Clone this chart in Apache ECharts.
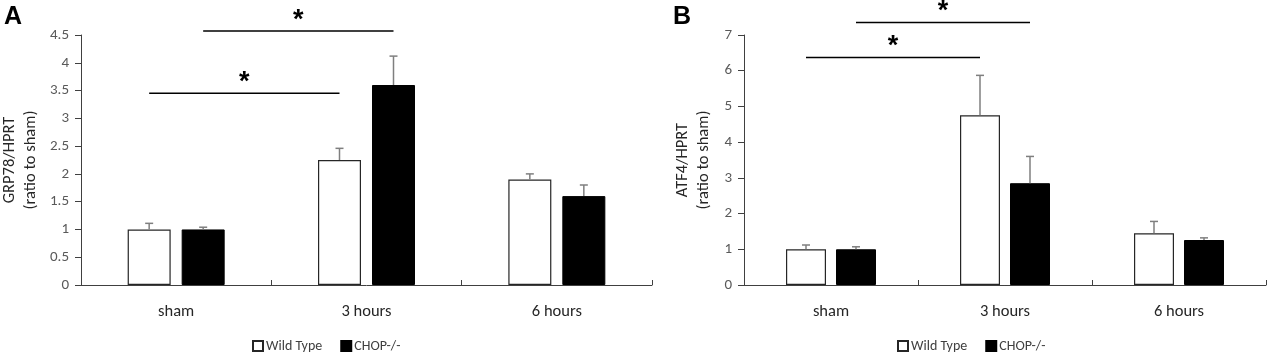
<!DOCTYPE html>
<html><head><meta charset="utf-8">
<script src="https://cdn.jsdelivr.net/npm/echarts@6/dist/echarts.min.js"></script>
<style>html,body{margin:0;padding:0;background:#fff}#c{width:1267px;height:354px}</style>
</head><body><div id="c"></div>
<script>
// ---- data ----
const categories = ['sham', '3 hours', '6 hours'];
const seriesNames = ['Wild Type', 'CHOP-/-'];
const grpWT = [1.0, 2.25, 1.9];
const grpWTErr = [0.11, 0.21, 0.1];
const grpKO = [1.0, 3.6, 1.6];
const grpKOErr = [0.04, 0.52, 0.2];
const atfWT = [1.0, 4.75, 1.45];
const atfWTErr = [0.12, 1.12, 0.33];
const atfKO = [1.0, 2.85, 1.26];
const atfKOErr = [0.07, 0.75, 0.06];
// significance brackets: [fromCategory, toCategory, seriesIndex, yLevel]
const sigA = [[0, 1, 0, 3.45], [0, 1, 1, 4.57]];
const sigB = [[0, 1, 0, 6.37], [0, 1, 1, 7.35]];
const yAxisA = { name: 'GRP78/HPRT\n(ratio to sham)', max: 4.5, step: 0.5 };
const yAxisB = { name: 'ATF4/HPRT\n(ratio to sham)', max: 7, step: 1 };
const panelLabels = ['A', 'B'];

// ---- style ----
const FONT = 'Carlito, Lato, "Open Sans", sans-serif';
const AX = '#404040';
const panels = [
  { grid: { left: 81, right: 615, top: 35, bottom: 69 }, barW: 43, gap: 11, wt: grpWT, wtE: grpWTErr, ko: grpKO, koE: grpKOErr, sig: sigA, y: yAxisA, nameGap: 40, legendLeft: 252, letterLeft: 4 },
  { grid: { left: 744, right: 1, top: 35, bottom: 69 }, barW: 40, gap: 10, wt: atfWT, wtE: atfWTErr, ko: atfKO, koE: atfKOErr, sig: sigB, y: yAxisB, nameGap: 30, legendLeft: 897, letterLeft: 673 }
];

function errRender(off) {
  return function (params, api) {
    const i = api.value(0), v = api.value(1), e = api.value(2);
    const p0 = api.coord([i, v]);
    const p1 = api.coord([i, v + e]);
    const x = p0[0] + off;
    const st = { stroke: '#7f7f7f', lineWidth: 1.5 };
    return { type: 'group', children: [
      { type: 'line', shape: { x1: x, y1: p0[1], x2: x, y2: p1[1] }, style: st },
      { type: 'line', shape: { x1: x - 4, y1: p1[1], x2: x + 4, y2: p1[1] }, style: st }
    ] };
  };
}
function sigRender(off) {
  return function (params, api) {
    const a = api.value(0), b = api.value(1), s = api.value(2), y = api.value(3);
    const o = s === 0 ? -off : off;
    const p0 = api.coord([a, y]);
    const p1 = api.coord([b, y]);
    const x0 = p0[0] + o, x1 = p1[0] + o;
    return { type: 'group', children: [
      { type: 'line', shape: { x1: x0, y1: p0[1], x2: x1, y2: p0[1] }, style: { stroke: '#000', lineWidth: 1.5 } },
      { type: 'text', style: { x: (x0 + x1) / 2, y: p0[1] + 3, text: '*', fill: '#000', font: 'bold 27px "Liberation Sans", Arial, sans-serif', textAlign: 'center', textVerticalAlign: 'bottom' } }
    ] };
  };
}

const option = { animation: false, backgroundColor: '#fff', grid: [], xAxis: [], yAxis: [], series: [], legend: [], graphic: [] };
panels.forEach((p, k) => {
  option.grid.push(Object.assign({ outerBoundsMode: 'none', containLabel: false }, p.grid));
  option.xAxis.push({
    gridIndex: k, type: 'category', data: categories,
    axisLine: { lineStyle: { color: AX, width: 1 } },
    axisTick: { show: true, inside: true, length: 5, lineStyle: { color: AX } },
    axisLabel: { fontFamily: FONT, fontSize: 16.5, color: '#262626', margin: 18 }
  });
  option.yAxis.push({
    gridIndex: k, type: 'value', min: 0, max: p.y.max, interval: p.y.step,
    name: p.y.name, nameLocation: 'middle', nameGap: p.nameGap, nameRotate: 90,
    nameTextStyle: { fontFamily: FONT, fontSize: 16.5, color: '#262626', lineHeight: 21 },
    axisLine: { show: true, lineStyle: { color: AX, width: 1 } },
    axisTick: { show: true, length: 6, lineStyle: { color: AX } },
    splitLine: { show: false },
    axisLabel: { fontFamily: FONT, fontSize: 15, color: '#595959', margin: 12 }
  });
  const off = (p.barW + p.gap) / 2;
  option.series.push(
    { name: seriesNames[0], type: 'bar', xAxisIndex: k, yAxisIndex: k, data: p.wt, barWidth: p.barW, barGap: (p.gap / p.barW * 100) + '%',
      itemStyle: { color: '#fff', borderColor: '#262626', borderWidth: 1.2 } },
    { name: seriesNames[1], type: 'bar', xAxisIndex: k, yAxisIndex: k, data: p.ko, barWidth: p.barW,
      itemStyle: { color: '#000', borderColor: '#000', borderWidth: 1 } },
    { type: 'custom', xAxisIndex: k, yAxisIndex: k, z: 5, renderItem: errRender(-off), data: p.wt.map((v, i) => [i, v, p.wtE[i]]) },
    { type: 'custom', xAxisIndex: k, yAxisIndex: k, z: 5, renderItem: errRender(off), data: p.ko.map((v, i) => [i, v, p.koE[i]]) },
    { type: 'custom', xAxisIndex: k, yAxisIndex: k, z: 6, clip: false, renderItem: sigRender(off), data: p.sig }
  );
  option.legend.push({
    data: seriesNames, left: p.legendLeft, top: 339, padding: 0, itemWidth: 10, itemHeight: 10, itemGap: 18,
    icon: 'rect', selectedMode: false,
    textStyle: { fontFamily: FONT, fontSize: 14, color: '#404040', padding: [0, 0, 0, -2] }
  });
  option.graphic.push({ type: 'text', left: p.letterLeft, top: 5, style: { text: panelLabels[k], font: 'bold 25px "Liberation Sans", Arial, sans-serif', fill: '#000' } });
});
const chart = echarts.init(document.getElementById('c'), null, { renderer: 'canvas' });
chart.setOption(option);
</script></body></html>
